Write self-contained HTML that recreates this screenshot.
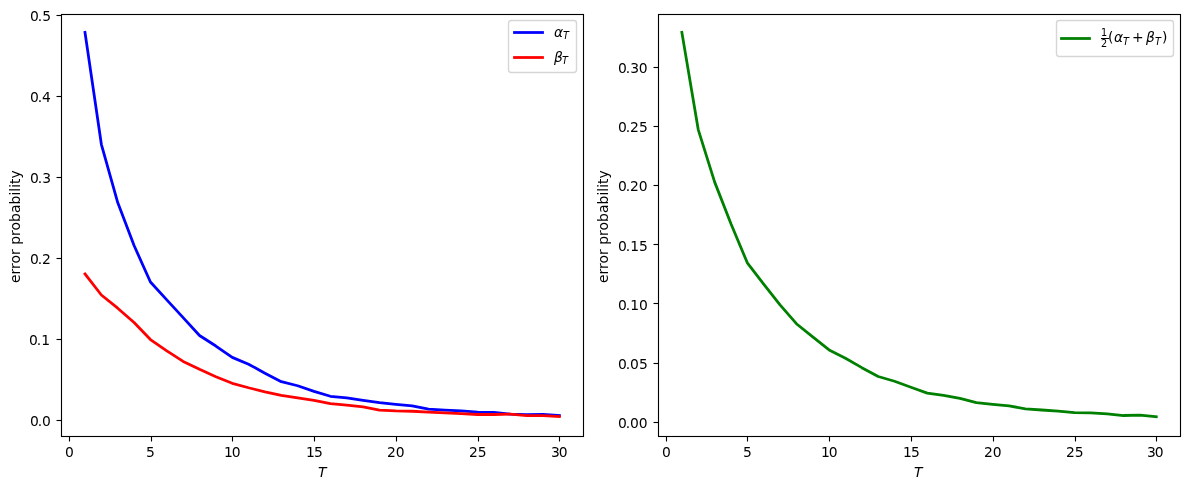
<!DOCTYPE html>
<html lang="en"><head><meta charset="utf-8"><title>error probability</title>
<style>html,body{margin:0;padding:0;background:#fff;overflow:hidden}svg{display:block}text{font-family:"DejaVu Sans","Liberation Sans",sans-serif;fill:#000}</style></head><body>
<svg width="1189" height="489" viewBox="0 0 1189 489">
<rect x="0" y="0" width="1189" height="489" fill="#ffffff"/>
<g id="left">
<polyline fill="none" stroke="#0000ff" stroke-width="2.778" stroke-linecap="square" stroke-linejoin="round" points="85.00,32.45 101.36,144.26 117.72,202.60 134.07,245.55 150.43,282.01 166.79,299.84 183.15,317.66 199.51,335.49 215.87,346.02 232.23,357.37 248.59,364.25 264.95,373.17 281.30,381.67 297.66,385.73 314.02,391.40 330.38,396.26 346.74,397.88 363.10,400.31 379.46,402.74 395.82,404.36 412.18,405.98 428.53,409.22 444.89,410.03 461.25,410.84 477.61,412.06 493.97,412.47 510.33,414.09 526.69,414.73 543.05,414.33 559.40,415.54"/>
<polyline fill="none" stroke="#ff0000" stroke-width="2.778" stroke-linecap="square" stroke-linejoin="round" points="85.00,273.91 101.36,294.98 117.72,308.18 134.07,322.52 150.43,339.54 166.79,350.88 183.15,361.42 199.51,369.36 215.87,376.81 232.23,383.30 248.59,387.75 264.95,391.80 281.30,395.45 297.66,397.88 314.02,400.31 330.38,403.55 346.74,405.17 363.10,406.79 379.46,410.03 395.82,410.84 412.18,411.25 428.53,412.06 444.89,412.87 461.25,413.68 477.61,414.49 493.97,414.49 510.33,414.09 526.69,415.71 543.05,415.71 559.40,416.52"/>
<g stroke="#000" stroke-width="1.111">
<line x1="69.5" y1="436.5" x2="69.5" y2="441.5"/>
<line x1="151.5" y1="436.5" x2="151.5" y2="441.5"/>
<line x1="232.5" y1="436.5" x2="232.5" y2="441.5"/>
<line x1="314.5" y1="436.5" x2="314.5" y2="441.5"/>
<line x1="396.5" y1="436.5" x2="396.5" y2="441.5"/>
<line x1="478.5" y1="436.5" x2="478.5" y2="441.5"/>
<line x1="559.5" y1="436.5" x2="559.5" y2="441.5"/>
<line x1="56.5" y1="15.5" x2="61.5" y2="15.5"/>
<line x1="56.5" y1="96.5" x2="61.5" y2="96.5"/>
<line x1="56.5" y1="177.5" x2="61.5" y2="177.5"/>
<line x1="56.5" y1="258.5" x2="61.5" y2="258.5"/>
<line x1="56.5" y1="339.5" x2="61.5" y2="339.5"/>
<line x1="56.5" y1="420.5" x2="61.5" y2="420.5"/>
</g>
<text x="65" y="456.6" font-size="13.889">0</text>
<text x="146" y="456.59" font-size="13.889">5</text>
<text x="224 231.75" y="456.56" font-size="13.889">10</text>
<text x="306 314" y="456.56" font-size="13.889">15</text>
<text x="387 395.75" y="456.56" font-size="13.889">20</text>
<text x="469 477.75" y="456.56" font-size="13.889">25</text>
<text x="551 558.75" y="456.55" font-size="13.889">30</text>
<text x="30 37.75 42.25" y="20.52" font-size="13.889">0.5</text>
<text x="30 37.75 42" y="101.57" font-size="13.889">0.4</text>
<text x="30 37.75 42.25" y="182.59" font-size="13.889">0.3</text>
<text x="30 37.75 42" y="263.6" font-size="13.889">0.2</text>
<text x="29 36.75 41.25" y="344.55" font-size="13.889">0.1</text>
<text x="30 37.75 42" y="425.51" font-size="13.889">0.0</text>
<rect x="61.5" y="14.5" width="522" height="422" fill="none" stroke="#000" stroke-width="1.111"/>
<text x="318" y="476.53" font-size="13.889" font-style="oblique">T</text>
<text transform="translate(19.55 226.64) rotate(-90)" x="-56.27 -47.98 -42.28 -36.87 -28.39 -24.44 -18.02 -9.47 -3.81 4.67 13.73 22.23 31.05 34.89 39 42.61 48.05" y="0" font-size="13.889">error probability</text>
<rect x="508.5" y="20.5" width="68" height="52" rx="2.78" ry="2.78" fill="#fff" fill-opacity="0.8" stroke="#cccccc" stroke-opacity="0.8" stroke-width="1.389"/>
<line x1="514.5" y1="32.5" x2="542.5" y2="32.5" stroke="#0000ff" stroke-width="2.778" stroke-linecap="square"/>
<line x1="514.5" y1="57.5" x2="542.5" y2="57.5" stroke="#ff0000" stroke-width="2.778" stroke-linecap="square"/>
<text><tspan x="554" y="36.61" font-size="13.889" font-style="oblique">α</tspan><tspan x="563" y="38.89" font-size="9.722" font-style="oblique">T</tspan></text>
<text><tspan x="554" y="61.54" font-size="13.889" font-style="oblique">β</tspan><tspan x="562" y="63.82" font-size="9.722" font-style="oblique">T</tspan></text>
</g>
<g id="right">
<polyline fill="none" stroke="#008000" stroke-width="2.778" stroke-linecap="square" stroke-linejoin="round" points="681.87,32.45 698.23,129.57 714.59,181.87 730.95,223.74 747.31,262.83 763.67,284.15 780.03,304.88 796.39,323.71 812.74,336.86 829.10,349.89 845.46,358.18 861.82,367.66 878.18,376.54 894.54,381.28 910.90,387.20 927.26,393.12 943.61,395.49 959.97,398.45 976.33,402.60 992.69,404.38 1009.05,405.86 1025.41,408.82 1041.77,410.00 1058.13,411.19 1074.49,412.67 1090.84,412.96 1107.20,413.85 1123.56,415.51 1139.92,415.21 1156.28,416.69"/>
<g stroke="#000" stroke-width="1.111">
<line x1="666.5" y1="436.5" x2="666.5" y2="441.5"/>
<line x1="747.5" y1="436.5" x2="747.5" y2="441.5"/>
<line x1="829.5" y1="436.5" x2="829.5" y2="441.5"/>
<line x1="911.5" y1="436.5" x2="911.5" y2="441.5"/>
<line x1="993.5" y1="436.5" x2="993.5" y2="441.5"/>
<line x1="1075.5" y1="436.5" x2="1075.5" y2="441.5"/>
<line x1="1156.5" y1="436.5" x2="1156.5" y2="441.5"/>
<line x1="653.5" y1="67.5" x2="658.5" y2="67.5"/>
<line x1="653.5" y1="126.5" x2="658.5" y2="126.5"/>
<line x1="653.5" y1="185.5" x2="658.5" y2="185.5"/>
<line x1="653.5" y1="244.5" x2="658.5" y2="244.5"/>
<line x1="653.5" y1="303.5" x2="658.5" y2="303.5"/>
<line x1="653.5" y1="363.5" x2="658.5" y2="363.5"/>
<line x1="653.5" y1="422.5" x2="658.5" y2="422.5"/>
</g>
<text x="662" y="456.6" font-size="13.889">0</text>
<text x="743" y="456.59" font-size="13.889">5</text>
<text x="821 828.75" y="456.56" font-size="13.889">10</text>
<text x="903 911" y="456.56" font-size="13.889">15</text>
<text x="984 992.75" y="456.56" font-size="13.889">20</text>
<text x="1066 1074.75" y="456.56" font-size="13.889">25</text>
<text x="1147 1154.75" y="456.55" font-size="13.889">30</text>
<text x="618 625.75 630.25 638.75" y="72.6" font-size="13.889">0.30</text>
<text x="618 625.75 630 639" y="131.61" font-size="13.889">0.25</text>
<text x="618 625.75 630 638.75" y="190.61" font-size="13.889">0.20</text>
<text x="618 625.75 630.25 639" y="250.61" font-size="13.889">0.15</text>
<text x="618 625.75 630.25 639" y="309.61" font-size="13.889">0.10</text>
<text x="618 625.75 630 639" y="368.51" font-size="13.889">0.05</text>
<text x="618 625.75 630 638.75" y="427.51" font-size="13.889">0.00</text>
<rect x="658.5" y="14.5" width="522" height="422" fill="none" stroke="#000" stroke-width="1.111"/>
<text x="914" y="476.53" font-size="13.889" font-style="oblique">T</text>
<text transform="translate(607.59 226.64) rotate(-90)" x="-56.27 -47.98 -42.28 -36.87 -28.39 -24.44 -18.02 -9.47 -3.81 4.67 13.73 22.23 31.05 34.89 39 42.61 48.05" y="0" font-size="13.889">error probability</text>
<rect x="1056.5" y="20.5" width="117" height="36" rx="2.78" ry="2.78" fill="#fff" fill-opacity="0.8" stroke="#cccccc" stroke-opacity="0.8" stroke-width="1.389"/>
<line x1="1061.5" y1="38.5" x2="1089.5" y2="38.5" stroke="#008000" stroke-width="2.778" stroke-linecap="square"/>
<text><tspan x="1101" y="36.23" font-size="9.722">1</tspan><tspan x="1101" y="46.78" font-size="9.722">2</tspan><tspan x="1108" y="42.32" font-size="13.889">(</tspan><tspan x="1114" y="42.32" font-size="13.889" font-style="oblique">α</tspan><tspan x="1123" y="44.59" font-size="9.722" font-style="oblique">T</tspan><tspan x="1132" y="42.32" font-size="13.889">+</tspan><tspan x="1146" y="42.32" font-size="13.889" font-style="oblique">β</tspan><tspan x="1155" y="44.59" font-size="9.722" font-style="oblique">T</tspan><tspan x="1162" y="42.32" font-size="13.889">)</tspan></text>
<rect x="1101" y="38" width="8" height="1" fill="#000"/>
</g>
</svg></body></html>
